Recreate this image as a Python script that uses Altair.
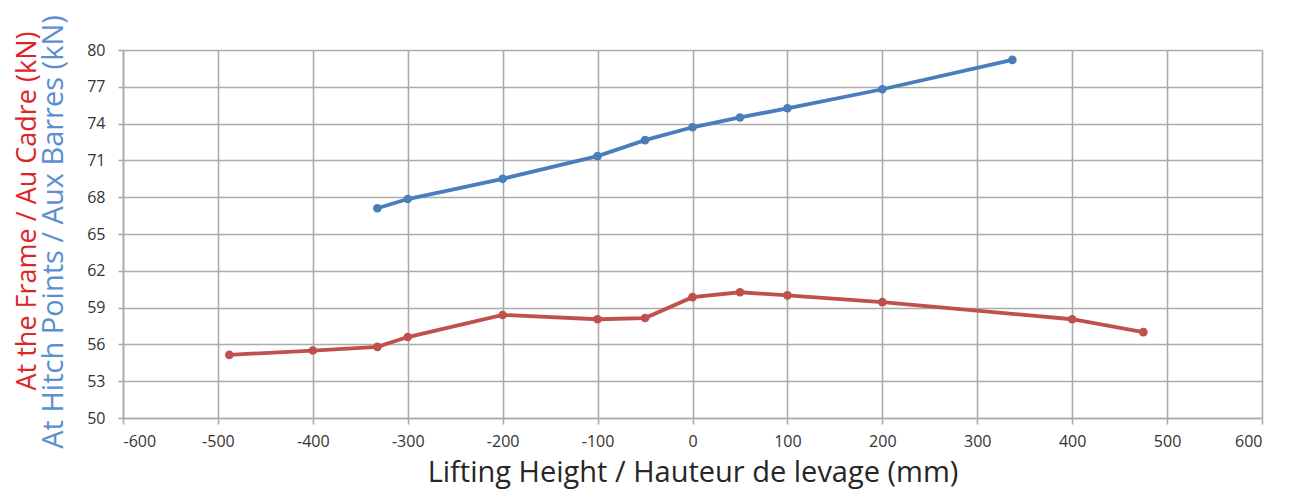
import altair as alt
import pandas as pd

# Hitch points / Aux Barres (blue)
hitch_x = [-332, -300, -200, -100, -50, 0, 50, 100, 200, 337]
hitch_y = [67.1, 67.85, 69.5, 71.35, 72.65, 73.7, 74.5, 75.25, 76.8, 79.2]

# Frame / Au Cadre (red)
frame_x = [-488, -400, -332, -300, -200, -100, -50, 0, 50, 100, 200, 400, 475]
frame_y = [55.15, 55.5, 55.8, 56.6, 58.4, 58.05, 58.15, 59.85, 60.25, 60.0, 59.45, 58.05, 57.0]

x_ticks = list(range(-600, 601, 100))
y_ticks = list(range(50, 81, 3))

x_title = "Lifting Height / Hauteur de levage (mm)"
red_title = "At the Frame / Au Cadre (kN)"
blue_title = "At Hitch Points / Aux Barres (kN)"

df = pd.concat([
    pd.DataFrame({"x": hitch_x, "y": hitch_y, "s": "hitch"}),
    pd.DataFrame({"x": frame_x, "y": frame_y, "s": "frame"}),
])

FONT = "Open Sans"
W, H = 1139, 368
GRID = "#ababab"

xs = alt.X("x:Q", scale=alt.Scale(domain=[-600, 600], nice=False),
           axis=alt.Axis(values=x_ticks, labelExpr="toString(datum.value)",
                         title=x_title, titleFontSize=29,
                         titleFont=FONT, titleFontWeight="normal", titleColor="#262626",
                         titleY=63, titleBaseline="alphabetic",
                         labelFont=FONT, labelFontSize=16, labelOverlap=False,
                         labelColor="#333333", labelPadding=9,
                         tickColor=GRID, tickSize=6, domainColor=GRID,
                         gridColor=GRID, gridWidth=1.6, domainWidth=1.6, tickWidth=1.6))
ys = alt.Y("y:Q", scale=alt.Scale(domain=[50, 80], nice=False, zero=False),
           axis=alt.Axis(values=y_ticks, title=None, labelFont=FONT, labelFontSize=16,
                         labelColor="#333333", labelPadding=13, labelOverlap=False,
                         labelExpr="toString(datum.value)",
                         tickColor=GRID, tickSize=5, domainColor=GRID,
                         gridColor=GRID, gridWidth=1.6, domainWidth=1.6, tickWidth=1.6))
color = alt.Color("s:N", scale=alt.Scale(domain=["hitch", "frame"],
                                         range=["#4a7ebb", "#c0504d"]), legend=None)

base = alt.Chart(df).encode(x=xs, y=ys, color=color)
lines = base.mark_line(strokeWidth=3.8).encode(detail="s:N")
points = base.mark_point(filled=True, size=75, opacity=1)

t1 = alt.Chart(pd.DataFrame({"t": [red_title]})).mark_text(
    angle=270, font=FONT, fontSize=27, color="#dc2626", align="center", baseline="middle"
).encode(text="t:N", x=alt.value(-95), y=alt.value(161))
t2 = alt.Chart(pd.DataFrame({"t": [blue_title]})).mark_text(
    angle=270, font=FONT, fontSize=29, color="#5b8fd0", align="center", baseline="middle"
).encode(text="t:N", x=alt.value(-69), y=alt.value(182))

chart = alt.layer(lines, points, t1, t2).properties(
    width=W, height=H,
    autosize=alt.AutoSizeParams(type="none"),
    padding={"left": 115, "top": 42, "right": 21, "bottom": 72},
).configure_view(stroke=None).configure(background="white")

chart.save("out.html", embed_options={"renderer": "svg", "actions": False})
